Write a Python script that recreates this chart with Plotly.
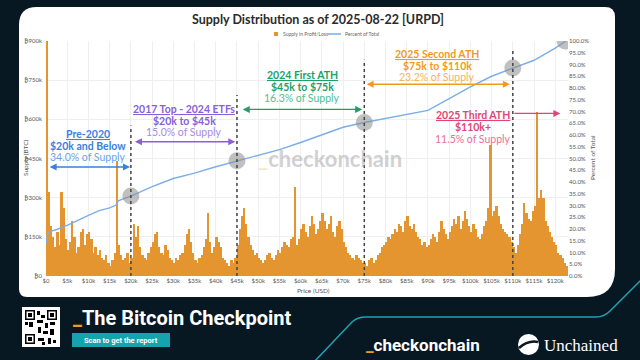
import plotly.graph_objects as go

# ---------------- DATA ----------------
bin_width_usd = 500
# Supply (thousand BTC) per $500 price bin, grouped by $10k ranges
supply_00k = [930, 320, 190, 150, 110, 170, 120, 320, 260, 140, 100, 130, 210, 150, 90, 110, 170, 180, 120, 160]
supply_10k = [170, 140, 90, 110, 80, 100, 70, 60, 80, 50, 40, 60, 90, 440, 120, 80, 60, 70, 90, 50]
supply_20k = [70, 200, 150, 190, 110, 80, 70, 60, 90, 110, 130, 160, 170, 110, 90, 80, 120, 100, 70, 60]
supply_30k = [50, 70, 60, 80, 90, 120, 160, 180, 130, 90, 60, 50, 70, 80, 110, 140, 240, 130, 90, 110]
supply_40k = [150, 130, 110, 70, 60, 50, 40, 60, 50, 70, 120, 180, 230, 260, 200, 150, 120, 100, 80, 90]
supply_50k = [70, 60, 50, 60, 80, 90, 70, 60, 80, 100, 90, 110, 130, 120, 110, 140, 150, 340, 120, 140]
supply_60k = [180, 200, 170, 150, 190, 230, 200, 160, 180, 210, 240, 210, 180, 200, 230, 170, 150, 190, 210, 180]
supply_70k = [130, 110, 90, 80, 70, 60, 80, 70, 60, 50, 50, 40, 60, 70, 50, 60, 80, 90, 110, 120]
supply_80k = [130, 150, 140, 160, 180, 170, 200, 190, 170, 210, 230, 190, 180, 200, 170, 150, 140, 120, 130, 110]
supply_90k = [120, 140, 160, 150, 130, 170, 210, 180, 160, 140, 170, 190, 220, 200, 230, 180, 210, 250, 220, 190]
supply_100k = [170, 200, 180, 150, 140, 160, 190, 210, 260, 500, 230, 250, 270, 230, 200, 180, 170, 160, 150, 130]
supply_110k = [110, 90, 120, 160, 200, 280, 240, 220, 210, 250, 270, 630, 300, 330, 300, 210, 190, 170, 150, 130]
supply_120k = [120, 90, 80, 70, 50, 40]

# Cumulative percent of total supply
line_price = [0, 500, 1000, 2500, 5000, 7500, 10000, 12500, 15000, 16500, 17000, 20000, 25000, 30000,
              35000, 40000, 45000, 50000, 55000, 60000, 65000, 70000, 75000, 80000, 85000, 90000,
              95000, 100000, 105000, 110000, 115000, 120000, 122500]
line_pct = [14.0, 18.5, 19.0, 19.8, 21.5, 23.8, 25.8, 27.8, 29.0, 30.2, 32.0, 34.0, 38.0, 41.5,
            43.8, 46.5, 49.0, 51.5, 53.8, 56.8, 60.2, 63.3, 65.3, 67.0, 68.6, 70.5,
            75.5, 80.5, 85.0, 88.5, 91.8, 97.0, 100.0]

# Cohort boundaries
boundary_price = [20000, 45000, 75000, 110000]
boundary_pct = [34.0, 49.0, 65.3, 88.5]
end_price, end_pct = 122300, 100.0

cohort_titles = ["Pre-2020", "2017 Top - 2024 ETFs", "2024 First ATH", "2025 Second ATH", "2025 Third ATH"]
cohort_ranges = ["$20k and Below", "$20k to $45k", "$45k to $75k", "$75k to $110k", "$110k+"]
cohort_share = ["34.0% of Supply", "15.0% of Supply", "16.3% of Supply", "23.2% of Supply", "11.5% of Supply"]

# ---------------- LAYOUT HELPERS ----------------
W, H = 640, 360
L, R, T, B = 46, 568, 41, 276


def px(x):
    return (x - L) / (R - L)


def py(y):
    return (B - y) / (B - T)


def path(cmds):
    out = []
    for c in cmds:
        if isinstance(c, str):
            if c:
                out.append(c)
        else:
            out.append(f"{px(c[0]):.5f},{py(c[1]):.5f}")
    return " ".join(out)


def note(x, y, text, size, color, family="Lato", xanchor="center", angle=0):
    return dict(x=px(x), y=py(y), xref="paper", yref="paper", showarrow=False, text=text,
                xanchor=xanchor, yanchor="middle", textangle=angle,
                font=dict(size=size, color=color, family=family))


supply = (supply_00k + supply_10k + supply_20k + supply_30k + supply_40k + supply_50k + supply_60k +
          supply_70k + supply_80k + supply_90k + supply_100k + supply_110k + supply_120k)
bin_centers = [i * bin_width_usd + bin_width_usd / 2 for i in range(len(supply))]
supply_btc = [v * 1000 for v in supply]

FONT = "Lato"
BAR_COLOR = "#e5952f"
LINE_COLOR = "#7aaeea"
fig = go.Figure()
fig.add_trace(go.Bar(x=bin_centers, y=supply_btc, width=bin_width_usd * 0.9,
                     marker=dict(color=BAR_COLOR, line=dict(width=0)),
                     name="Supply in Profit/Loss", showlegend=False))
fig.add_trace(go.Scatter(x=line_price, y=line_pct, yaxis="y2", mode="lines",
                         line=dict(color=LINE_COLOR, width=1.4), name="Percent of Total", showlegend=False))
fig.add_trace(go.Scatter(x=boundary_price + [end_price], y=boundary_pct + [end_pct], yaxis="y2",
                         mode="markers", showlegend=False,
                         marker=dict(size=17, color="rgba(140,140,140,0.55)")))

shapes = []
# white card
card = path(["M", (37, 7), "L", (605, 7), "Q", (615, 7), (615, 17), "L", (615, 269),
             "Q", (615, 297), (587, 297), "L", (27, 297), "Q", (19, 297), (19, 289),
             "L", (19, 25), "Q", (19, 7), (37, 7), "Z"])
shapes.append(dict(type="path", xref="paper", yref="paper", path=card, fillcolor="white",
                   line=dict(width=0), layer="below"))

# teal decorative line in banner
teal = path(["M", (314, 362), "L", (352, 322), "Q", (357, 317), (366, 317), "L", (596, 317),
             "Q", (604, 317), (610, 311), "L", (642, 279)])
shapes.append(dict(type="path", xref="paper", yref="paper", path=teal,
                   line=dict(color="#1ba3b2", width=1.5)))

# vertical dotted boundaries
boundary_top = [64, 77, 92, 96]
for xb, yt in zip(boundary_price, boundary_top):
    shapes.append(dict(type="line", xref="x", yref="y2", x0=xb, x1=xb, y0=0, y1=yt,
                       line=dict(color="#444", width=1.5, dash="dot")))

# manual legend
shapes.append(dict(type="rect", xref="paper", yref="paper", x0=px(274), x1=px(278), y0=py(36), y1=py(32),
                   fillcolor=BAR_COLOR, line=dict(width=0)))
shapes.append(dict(type="line", xref="paper", yref="paper", x0=px(328), x1=px(341), y0=py(34), y1=py(34),
                   line=dict(color=LINE_COLOR, width=1.5)))

# QR code block
shapes.append(dict(type="rect", xref="paper", yref="paper", x0=px(22), x1=px(60), y0=py(347), y1=py(307),
                   fillcolor="white", line=dict(width=0)))
for (qx, qy) in [(25, 310), (47, 310), (25, 334)]:
    shapes.append(dict(type="rect", xref="paper", yref="paper", x0=px(qx), x1=px(qx + 10),
                       y0=py(qy + 10), y1=py(qy), fillcolor="black", line=dict(width=0)))
    shapes.append(dict(type="rect", xref="paper", yref="paper", x0=px(qx + 1.5), x1=px(qx + 8.5),
                       y0=py(qy + 8.5), y1=py(qy + 1.5), fillcolor="white", line=dict(width=0)))
    shapes.append(dict(type="rect", xref="paper", yref="paper", x0=px(qx + 3), x1=px(qx + 7),
                       y0=py(qy + 7), y1=py(qy + 3), fillcolor="black", line=dict(width=0)))
for (qx, qy, qw, qh) in [(37, 311, 3, 4), (41, 315, 4, 3), (37, 320, 6, 3), (29, 322, 4, 5),
                         (45, 323, 3, 5), (50, 322, 5, 3), (38, 327, 3, 6), (43, 331, 5, 3),
                         (50, 329, 4, 6), (38, 338, 6, 3), (48, 338, 3, 6), (53, 340, 3, 3),
                         (42, 342, 3, 3), (25, 322, 3, 3)]:
    shapes.append(dict(type="rect", xref="paper", yref="paper", x0=px(qx), x1=px(qx + qw),
                       y0=py(qy + qh), y1=py(qy), fillcolor="black", line=dict(width=0)))

# report button
shapes.append(dict(type="rect", xref="paper", yref="paper", x0=px(72), x1=px(170), y0=py(347), y1=py(333),
                   fillcolor="#17a2b0", line=dict(width=0)))
# Unchained logo
shapes.append(dict(type="circle", xref="paper", yref="paper", x0=px(518), x1=px(539), y0=py(355), y1=py(334),
                   fillcolor="white", line=dict(width=0)))
shapes.append(dict(type="path", xref="paper", yref="paper",
                   path=path(["M", (519, 348), "Q", (528, 340), (538, 342)]),
                   line=dict(color="#081823", width=2.5)))

annotations = []
blue, blue_l = "#3a80e0", "#6da3ec"
purple, purple_l = "#8a60d8", "#a98ae6"
green, green_l = "#1f9f66", "#54bd8e"
orange, orange_l = "#f09a22", "#f4b457"
red, red_l = "#e24475", "#ec7199"
colors = [(blue, blue_l), (purple, purple_l), (green, green_l), (orange, orange_l), (red, red_l)]
text_x = [88, 184, 302, 437, 473]
text_y = [134, 109, 75, 54, 115.5]
for i in range(5):
    c, cl = colors[i]
    ys = [text_y[i], text_y[i] + 11.5, text_y[i] + 23]
    annotations.append(note(text_x[i], ys[0], f"<b><u>{cohort_titles[i]}</u></b>", 10.5, c))
    annotations.append(note(text_x[i], ys[1], f"<b>{cohort_ranges[i]}</b>", 10.5, c))
    annotations.append(note(text_x[i], ys[2], cohort_share[i], 10.5, cl))

# arrows
arrow_spec = [(500, 19800, 46.4, blue, "end+start"), (20600, 44600, 57.1, purple, "end+start"),
              (46000, 74500, 70.9, green, "end+start"), (75200, 109300, 81.6, orange, "end+start"),
              (110000, 121200, 69.2, red, "end")]
for x0, x1, yv, c, side in arrow_spec:
    annotations.append(dict(x=x1, y=yv, ax=x0, ay=yv, xref="x", yref="y2", axref="x", ayref="y2",
                            showarrow=True, arrowhead=2, arrowsize=1, arrowwidth=1.4, arrowcolor=c,
                            arrowside=side, text=""))

# legend texts
annotations.append(note(280.5, 34, "Supply in Profit/Loss", 5, "#666", xanchor="left"))
annotations.append(note(343, 34, "Percent of Total", 5, "#666", xanchor="left"))
# watermark
annotations.append(note(330, 158, "<b><span style='color:rgba(232,150,50,0.55)'>_</span>checkonchain</b>",
                        22, "rgba(150,150,150,0.45)"))
# axis titles
annotations.append(note(25, 158, "Supply (BTC)", 6.5, "#555", angle=-90))
annotations.append(note(592, 158, "Percent of Total", 6.5, "#555", angle=-90))
annotations.append(note(313, 290, "Price (USD)", 6.5, "#555"))
# banner text
annotations.append(note(71, 318, "<b><span style='color:#f39a1e'>_</span>The Bitcoin Checkpoint</b>",
                        20, "white", family="Roboto", xanchor="left"))
annotations.append(note(121, 340, "<b>Scan to get the report</b>", 7.5, "white", family="Roboto"))
annotations.append(note(364, 345, "<b><span style='color:#f39a1e'>_</span>checkonchain</b>",
                        17, "white", family="Roboto", xanchor="left"))
annotations.append(note(542, 345, "Unchained", 17, "white", family="Liberation Serif", xanchor="left"))

fig.update_layout(
    width=W, height=H,
    margin=dict(l=L, r=W - R, t=T, b=H - B, autoexpand=False),
    paper_bgcolor="#081823", plot_bgcolor="rgba(0,0,0,0)",
    font=dict(family=FONT, color="#555"),
    showlegend=False,
    title=dict(text="<b>Supply Distribution as of 2025-08-22 [URPD]</b>", x=318 / W, y=1 - 20 / H,
               xref="container", yref="container", xanchor="center", yanchor="middle",
               font=dict(size=12.5, color="#2b2b2b", family=FONT)),
    bargap=0,
    xaxis=dict(range=[0, 123000], tick0=0, dtick=5000, tickprefix="$", tickformat="~s",
               tickfont=dict(size=6, color="#555"), showgrid=True, gridcolor="#efefef",
               zeroline=False, showline=False, ticks=""),
    yaxis=dict(range=[0, 900000], tick0=0, dtick=150000, tickprefix="₿", tickformat="~s",
               tickfont=dict(size=6, color="#555"), showgrid=True, gridcolor="#efefef",
               zeroline=False, showline=False, ticks="", ticklabelstandoff=3),
    yaxis2=dict(range=[0, 100], tick0=0, dtick=5, ticksuffix="%", tickformat=".1f", overlaying="y",
                side="right", tickfont=dict(size=6, color="#555"), showgrid=False, zeroline=False),
    shapes=shapes, annotations=annotations,
)
fig.write_html("out.html", config={"typesetMath": False, "displayModeBar": False},
               post_script="document.body.style.margin='0';document.body.style.overflow='hidden';")
